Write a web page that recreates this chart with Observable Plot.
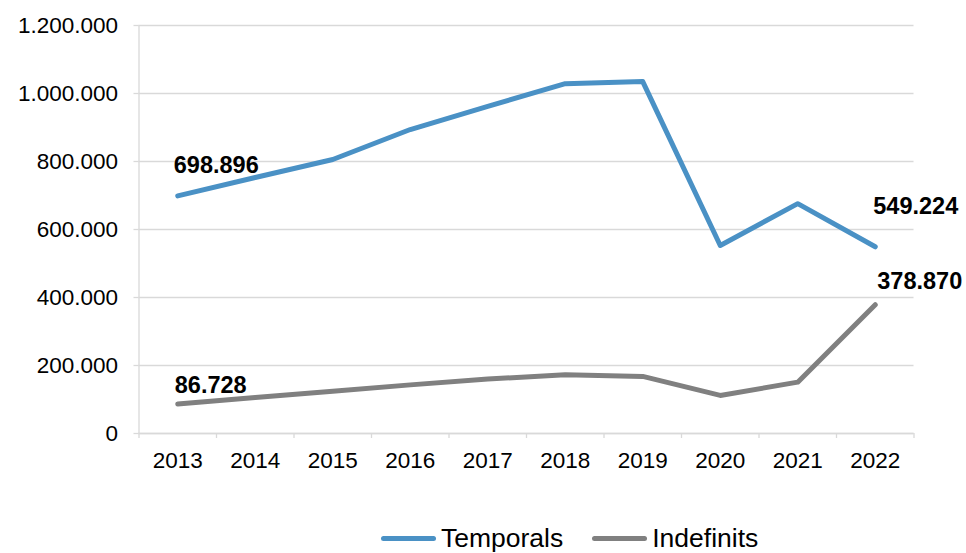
<!DOCTYPE html>
<html><head><meta charset="utf-8">
<script src="https://cdn.jsdelivr.net/npm/d3@7"></script>
<script src="https://cdn.jsdelivr.net/npm/@observablehq/plot@0.6"></script>
<style>
body{margin:0;background:#fff;font-family:"Liberation Sans",Arial,sans-serif;}
#wrap{position:relative;width:966px;height:553px;overflow:hidden;}
#legend{position:absolute;left:381px;top:522px;display:flex;align-items:center;font-size:26.5px;color:#000;height:32px;line-height:32px;}
.item{display:flex;align-items:center;margin-right:29px;}
.sw{width:55px;height:5px;border-radius:3px;margin-right:5px;}
</style></head><body>
<div id="wrap"><div id="chart"></div><div id="legend"></div></div>
<script>
const years = [2013, 2014, 2015, 2016, 2017, 2018, 2019, 2020, 2021, 2022];
const temporals = [698896, 753000, 806000, 894000, 962000, 1029000, 1035000, 553000, 676000, 549224];
const indefinits = [86728, 106000, 124000, 143000, 160000, 173000, 168000, 112000, 151000, 378870];
const seriesNames = ["Temporals", "Indefinits"];
const seriesColors = ["#4a91c5", "#808080"];
const yTicks = [0, 200000, 400000, 600000, 800000, 1000000, 1200000];

const fmt = d3.formatLocale({decimal: ",", thousands: ".", grouping: [3], currency: ["", "€"]}).format(",d");
const seriesValues = [temporals, indefinits];
const rows = [];
seriesNames.forEach((s, k) => years.forEach((y, i) => rows.push({year: y, value: seriesValues[k][i], series: s})));

// data labels: first and last point of each series
const labelRows = [];
seriesNames.forEach((s, k) => {
  const v = seriesValues[k];
  labelRows.push({year: years[0], value: v[0], series: s});
  labelRows.push({year: years[years.length - 1], value: v[v.length - 1], series: s});
});
const labelOffsets = [[-4, -23], [-2, -33], [-3, -11.5], [2, -16]];

const boundaries = [...years.map(y => y - 0.5), years[years.length - 1] + 0.5];
const gridColor = "#d9d9d9";

const chart = Plot.plot({
  width: 966, height: 495,
  marginLeft: 138.5, marginRight: 52.5, marginTop: 25, marginBottom: 62,
  style: {fontFamily: "'Liberation Sans', Arial, sans-serif", fontSize: "22px", color: "#000", background: "#fff"},
  x: {type: "linear", domain: [boundaries[0], boundaries[boundaries.length - 1]], label: null},
  y: {domain: [0, 1200000], label: null},
  color: {domain: seriesNames, range: seriesColors},
  marks: [
    Plot.gridY(yTicks, {stroke: gridColor, strokeOpacity: 1, strokeWidth: 1.3}),
    Plot.ruleX([boundaries[0]], {y1: 0, y2: 1200000, stroke: gridColor, strokeWidth: 1.3}),
    Plot.ruleY([0], {stroke: gridColor, strokeWidth: 1.3}),
    Plot.axisY(yTicks, {tickSize: 5, stroke: gridColor, strokeWidth: 1.3, tickFormat: () => "", label: null}),
    Plot.axisY(yTicks, {tickSize: 0, tickPadding: 21, tickFormat: fmt, fontSize: 22.5, fill: "#000", label: null}),
    Plot.axisX(boundaries, {tickSize: 5, stroke: gridColor, strokeWidth: 1.3, tickFormat: () => "", label: null}),
    Plot.axisX(years, {tickSize: 0, tickPadding: 19, tickFormat: d => String(d), fontSize: 22.5, fill: "#000", label: null}),
    Plot.line(rows, {x: "year", y: "value", z: "series", stroke: "series", strokeWidth: 5, strokeLinecap: "round", strokeLinejoin: "round"}),
    ...labelRows.map((r, i) => Plot.text([r], {
      x: "year", y: "value", text: d => fmt(d.value),
      textAnchor: "start", lineAnchor: "bottom",
      dx: labelOffsets[i][0], dy: labelOffsets[i][1],
      fontWeight: "bold", fontSize: 23.5, fill: "#000"
    }))
  ]
});
document.getElementById("chart").appendChild(chart);

const legend = document.getElementById("legend");
seriesNames.forEach((s, k) => {
  const item = document.createElement("div");
  item.className = "item";
  const sw = document.createElement("span");
  sw.className = "sw";
  sw.style.background = seriesColors[k];
  const t = document.createElement("span");
  t.textContent = s;
  item.appendChild(sw); item.appendChild(t);
  legend.appendChild(item);
});
</script>
</body></html>
